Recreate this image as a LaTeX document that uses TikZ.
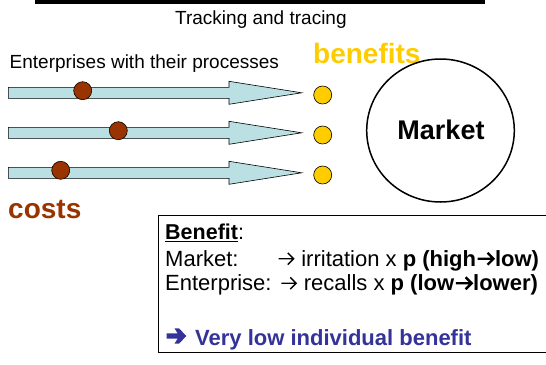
\documentclass[tikz,border=0pt]{standalone}
\usepackage{fontspec}
\usetikzlibrary{shapes.geometric}
\setmainfont{Liberation Sans}
\definecolor{arrfill}{HTML}{BBE0E3}
\definecolor{brown}{HTML}{993300}
\definecolor{gold}{HTML}{FFCC00}
\definecolor{navy}{HTML}{333399}
\newcommand\myfs[1]{\fontsize{#1}{#1}\selectfont}
% inline arrow: #1 line width, #2 drawn length (em)
\newcommand\warr[2]{\hspace{0.07em}\tikz[baseline=0pt,x=1em,y=1em]{\useasboundingbox (0,0) rectangle (#2,0.6);
  \draw[line width=#1,line cap=butt,line join=miter] (0,0.33)--(#2-0.05,0.33) (#2-0.27,0.06)--(#2,0.33)--(#2-0.27,0.60);}\hspace{0.07em}}
\tikzset{
  txt/.style={inner sep=0pt, anchor=base west},
  costdot/.style={circle, draw=black, line width=0.6pt, fill=brown, minimum size=18pt, inner sep=0pt},
  gaindot/.style={circle, draw=black, line width=0.6pt, fill=gold, minimum size=18pt, inner sep=0pt},
  flow/.style={draw=black, line width=0.6pt, fill=arrfill},
}
\begin{document}
\begin{tikzpicture}[x=1pt,y=-1pt]
\useasboundingbox (0,0) rectangle (546,364);
% top rule
\draw[line width=3.5pt] (35,2) -- (485,2);
\node[txt] (title) at (175,24) {\myfs{19}Tracking and tracing};
\node[txt] (ent) at (9.5,68.5) {\myfs{19}Enterprises with their processes};
\node[txt, text=gold] (ben) at (313,63) {\myfs{28}\bfseries benefits};
\node[txt, text=brown] (costs) at (8,218) {\myfs{28}\bfseries costs};
% process arrows
\foreach \yc in {92.8,132.8,172.8}{
  \draw[flow] (8.3,\yc-5.5) -- (229,\yc-5.5) -- (229,\yc-11.5) -- (301.7,\yc)
     -- (229,\yc+11.5) -- (229,\yc+5.5) -- (8.3,\yc+5.5) -- cycle;
}
\node[costdot] (c1) at (82.7,90.7) {};
\node[costdot] (c2) at (118.3,130.7) {};
\node[costdot] (c3) at (60.7,170.3) {};
\node[gaindot] (g1) at (322.7,95) {};
\node[gaindot] (g2) at (322.7,135) {};
\node[gaindot] (g3) at (322.7,175) {};
% market
\node[ellipse, draw=black, line width=1.5pt, minimum width=147.6pt, minimum height=143pt, inner sep=0pt] (market) at (440.5,130.5) {};
\node[inner sep=0pt] (mlabel) at (441,130) {\myfs{27}\bfseries Market};
% benefit box
\draw[line width=0.8pt, fill=white] (158.3,215) rectangle (550,352.7);
\node[txt] (bhead) at (165,239.5) {\myfs{21.5}\underline{\textbf{Benefit}}:};
\node[txt] (mk) at (165,266) {\myfs{22}Market:};
\node[txt] (mkv) at (277,266) {\myfs{22}\warr{1.4pt}{0.68}\ irritation x \textbf{p (high\warr{2.4pt}{0.72}low)}};
\node[txt] (en) at (165,290.5) {\myfs{22}Enterprise: \warr{1.4pt}{0.68}\ recalls x \textbf{p (low\warr{2.4pt}{0.72}lower)}};
\coordinate (ha) at (166.7,336);
\fill[navy] (ha) ++(0,-2.6) -- ++(11,0) -- ++(-3.2,-5) -- ++(4.6,0) -- ++(7.2,7.6)
  -- ++(-7.2,7.6) -- ++(-4.6,0) -- ++(3.2,-5) -- ++(-11,0) -- cycle;
\node[txt, text=navy] (concl) at (195,345) {\myfs{22}\textbf{Very low individual benefit}};
\end{tikzpicture}
\end{document}
